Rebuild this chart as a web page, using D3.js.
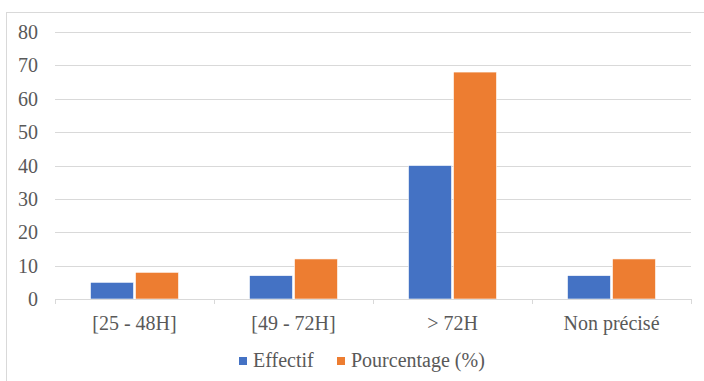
<!DOCTYPE html>
<html><head><meta charset="utf-8">
<script src="https://cdn.jsdelivr.net/npm/d3@7"></script>
<style>body{margin:0;background:#fff}svg{display:block}</style>
</head><body>
<svg id="c" width="704" height="381" style="font-family:'Liberation Serif'"></svg>
<script>
const categories = ["[25 - 48H]", "[49 - 72H]", "> 72H", "Non précisé"];
const effectif = [5, 7, 40, 7];
const pourcentage = [8, 12, 68, 12];
const seriesNames = ["Effectif", "Pourcentage (%)"];
const colors = ["#4472C4", "#ED7D31"];
const yTicks = [0, 10, 20, 30, 40, 50, 60, 70, 80];

const svg = d3.select("#c");
const font = '"Liberation Serif"';
const fs = 20;
svg.append("rect").attr("x", 6.5).attr("y", 12.5).attr("width", 720).attr("height", 400)
  .attr("fill", "#fff").attr("stroke", "#d9d9d9");

const mLeft = 55, mRight = 691, mTop = 32, mBottom = 299;
const x = d3.scaleBand().domain(categories).range([mLeft, mRight]);
const y = d3.scaleLinear().domain([0, 80]).range([mBottom, mTop]);

svg.append("g").selectAll("line").data(yTicks.filter(d => d > 0)).join("line")
  .attr("x1", mLeft).attr("x2", mRight)
  .attr("y1", d => Math.round(y(d)) + 0.5).attr("y2", d => Math.round(y(d)) + 0.5)
  .attr("stroke", "#d9d9d9").attr("stroke-width", 1);

svg.append("g").selectAll("text").data(yTicks).join("text")
  .attr("x", 38).attr("y", d => y(d) + 7)
  .attr("text-anchor", "end")
  .attr("font-size", fs).style("font-family", font, "important")
  .attr("fill", "#595959").text(d => d);

const series = [effectif, pourcentage];
const barW = 43, gap = 2;
series.forEach((vals, si) => {
  svg.append("g").selectAll("rect").data(vals).join("rect")
    .attr("x", (d, i) => x(categories[i]) + x.bandwidth() / 2 + (si === 0 ? -barW - gap / 2 : gap / 2))
    .attr("y", d => y(d)).attr("width", barW).attr("height", d => mBottom - y(d))
    .attr("fill", colors[si]).attr("stroke", "#fff").attr("stroke-width", 0.6);
});

svg.append("line").attr("x1", mLeft).attr("x2", mRight).attr("y1", mBottom + 0.5).attr("y2", mBottom + 0.5)
  .attr("stroke", "#d9d9d9");
const bounds = categories.map(c => x(c)).concat([mRight]);
svg.append("g").selectAll("line").data(bounds).join("line")
  .attr("x1", d => Math.round(d) + 0.5).attr("x2", d => Math.round(d) + 0.5)
  .attr("y1", mBottom).attr("y2", mBottom + 5).attr("stroke", "#d9d9d9");

svg.append("g").selectAll("text").data(categories).join("text")
  .attr("x", d => x(d) + x.bandwidth() / 2).attr("y", 330)
  .attr("text-anchor", "middle")
  .attr("font-size", fs).style("font-family", font, "important")
  .attr("fill", "#595959").text(d => d);

const lg = svg.append("g");
const legX = [239, 337];
seriesNames.forEach((n, i) => {
  lg.append("rect").attr("x", legX[i]).attr("y", 357).attr("width", 8).attr("height", 8).attr("fill", colors[i]);
  lg.append("text").attr("x", legX[i] + 14).attr("y", 367)
    .attr("font-size", fs).style("font-family", font, "important")
    .attr("fill", "#595959").text(n);
});
</script>
</body></html>
